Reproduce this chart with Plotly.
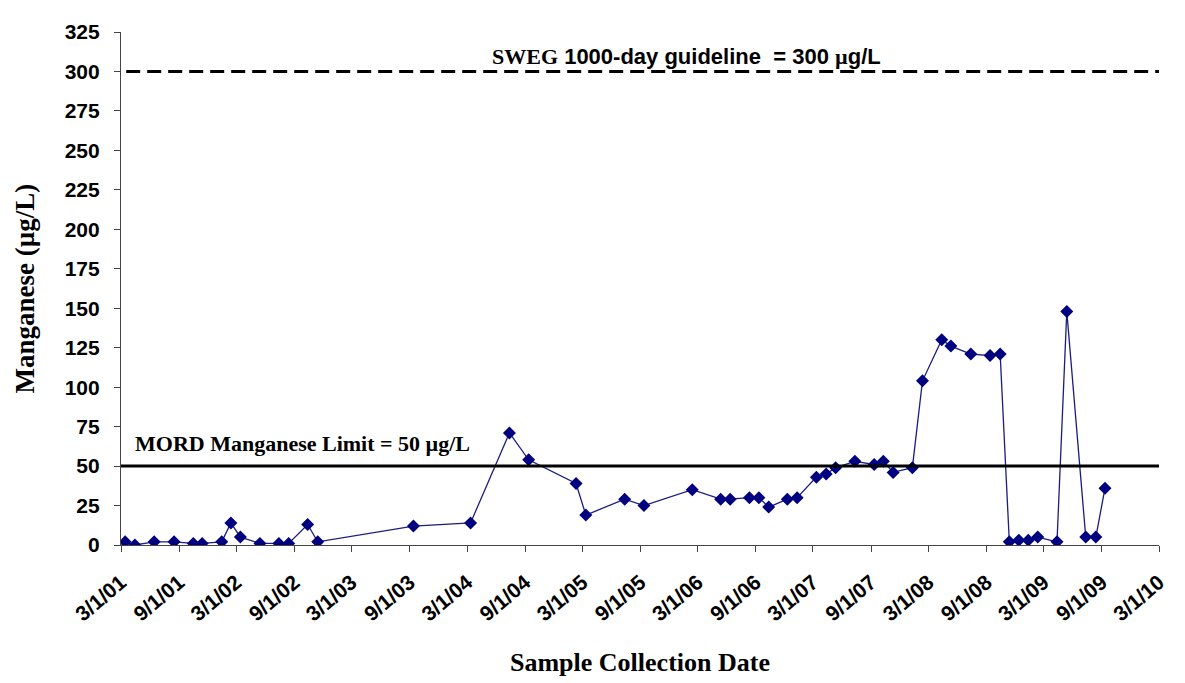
import plotly.graph_objects as go

# sample dates and manganese concentrations (ug/L)
dates = [
    "2001-03-14", "2001-04-14", "2001-06-14", "2001-08-16", "2001-10-16",
    "2001-11-13", "2002-01-14", "2002-02-12", "2002-03-14", "2002-05-15",
    "2002-07-14", "2002-08-14", "2002-10-13", "2002-11-14", "2003-09-13",
    "2004-03-12", "2004-07-13", "2004-09-12", "2005-02-09", "2005-03-12",
    "2005-07-13", "2005-09-12", "2006-02-12", "2006-05-13", "2006-06-12",
    "2006-08-12", "2006-09-11", "2006-10-12", "2006-12-10", "2007-01-10",
    "2007-03-12", "2007-04-12", "2007-05-12", "2007-07-12", "2007-09-11",
    "2007-10-10", "2007-11-10", "2008-01-10", "2008-02-11", "2008-04-12",
    "2008-05-11", "2008-07-13", "2008-09-12", "2008-10-14", "2008-11-12",
    "2008-12-12", "2009-01-11", "2009-02-10", "2009-04-12", "2009-05-13",
    "2009-07-12", "2009-08-13", "2009-09-11",
]
manganese = [
    2, 0, 2, 2, 1,
    1, 2, 14, 5, 1,
    1, 1, 13, 2, 12,
    14, 71, 54, 39, 19,
    29, 25, 35, 29, 29,
    30, 30, 24, 29, 30,
    43, 45, 49, 53, 51,
    53, 46, 49, 104, 130,
    126, 121, 120, 121, 2,
    3, 3, 5, 2, 148,
    5, 5, 36,
]

tick_dates = [f"{y}-{m:02d}-01" for y in range(2001, 2011) for m in (3, 9)][:-1]
tick_text = [f"{int(d[5:7])}/1/{d[2:4]}" for d in tick_dates]

mord_limit = 50
sweg_limit = 300

sans = "Liberation Sans, Arial, sans-serif"
serif = "Liberation Serif, Times New Roman, serif"

fig = go.Figure()
fig.add_trace(go.Scatter(
    x=dates, y=manganese, mode="lines+markers",
    line=dict(color="#1c1c80", width=1.3),
    marker=dict(symbol="diamond", size=10, color="#000080"),
    showlegend=False,
))

# guideline lines
fig.add_shape(type="line", xref="paper", x0=0, x1=1, y0=mord_limit, y1=mord_limit,
              line=dict(color="black", width=3))
fig.add_shape(type="line", xref="paper", x0=0.005, x1=1, y0=sweg_limit, y1=sweg_limit,
              line=dict(color="black", width=3, dash="14px,7px"))

fig.add_annotation(
    xref="paper", x=0.545, xanchor="center", y=sweg_limit, yshift=15, yanchor="middle",
    showarrow=False,
    text=('<span style="font-family:Times New Roman"><b>SWEG</b></span>'
          '<b> 1000-day guideline&nbsp;&nbsp;= 300 </b>'
          '<span style="font-family:Times New Roman"><b>µ</b></span><b>g/L</b>'),
    font=dict(family=sans, size=22, color="black"),
)
fig.add_annotation(
    xref="paper", x=0.0116, xanchor="left", y=mord_limit, yshift=23, yanchor="middle",
    showarrow=False, text="<b>MORD Manganese Limit = 50 µg/L</b>",
    font=dict(family=serif, size=22, color="black"),
)

# axis titles
fig.add_annotation(
    xref="paper", yref="paper", x=-0.0925, xanchor="center", y=0.5, yanchor="middle",
    textangle=-90, showarrow=False,
    text="<b>Manganese (µg/L)</b>", font=dict(family=serif, size=27, color="black"),
)
fig.add_annotation(
    xref="paper", yref="paper", x=0.5, xanchor="center", y=-0.2286, yanchor="middle",
    showarrow=False,
    text="<b>Sample Collection Date</b>", font=dict(family=serif, size=26, color="black"),
)

fig.update_xaxes(
    type="date", range=["2001-03-01", "2010-03-01"],
    tickvals=tick_dates, ticktext=tick_text, tickangle=-40, ticklabelstandoff=10,
    ticks="outside", ticklen=6, tickcolor="#444", showline=True, linecolor="#444",
    linewidth=1.2, showgrid=False, zeroline=False,
    tickfont=dict(family=sans, size=21, color="black", weight="bold"),
)
fig.update_yaxes(
    range=[0, 325], dtick=25, ticks="outside", ticklen=6, tickcolor="#444",
    ticklabelstandoff=10,
    showline=True, linecolor="#444", linewidth=1.2, showgrid=False, zeroline=False,
    tickfont=dict(family=sans, size=21, color="black", weight="bold"),
)
# page body has an 8px margin, so the plot box is shifted to compensate
fig.update_layout(
    width=1185, height=683,
    margin=dict(l=113, r=34, t=12, b=146),
    plot_bgcolor="white", paper_bgcolor="white",
)

fig.write_html("out.html")
